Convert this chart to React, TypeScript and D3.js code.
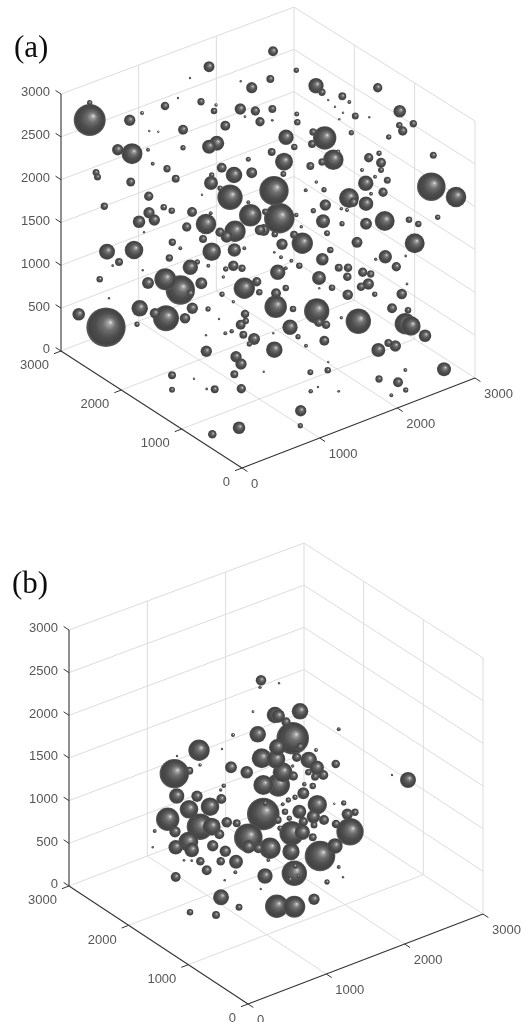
import React from 'react';
import * as d3 from 'd3';

// One projection cannot give depth, so spheres are read as position in the view plane:
// [across, up, radius], in view units measured from the axes' 0,0,0 corner
const spheresA: number[][] = [
  [-1523,3480,160],[-1523,3653,27],[-1123,3477,57],[-1000,3550,20],[-770,3620,43],[-640,3700,12],[-520,3900,12],[-330,4013,55],
  [-410,3663,37],[-260,3630,17],[-280,3570,33],[-13,3867,12],[97,3803,56],[-17,3590,57],[133,3570,47],[180,3463,47],[30,3513,14],
  [-167,3423,50],[-590,3383,50],[-927,3370,12],[-837,3363,12],[-1243,3183,57],[-1100,3143,105],[-940,3183,20],[-590,3203,27],
  [-330,3213,70],[-253,3247,75],[63,3087,25],[-893,3043,20],[-1460,2955,35],[-1445,2910,35],[-750,2993,37],[-203,3003,50],
  [-80,2930,83],[97,2953,55],[-663,2893,40],[-1113,2860,45],[-303,2930,27],[-310,2850,70],[-220,2797,27],[-120,2707,127],
  [-400,2733,12],[-933,2717,47],[-1377,2617,37],[-783,2607,33],[-703,2573,33],[-930,2553,57],[-500,2560,50],[-877,2480,57],
  [-1030,2463,63],[-360,2440,103],[-313,2547,20],[-553,2410,47],[-70,2367,107],[83,2527,113],[63,2657,20],[-220,2357,47],
  [-153,2313,60],[180,2380,53],[-980,2357,12],[-390,2290,40],[-697,2257,37],[-1350,2163,80],[-1080,2180,93],[-303,2163,93],
  [-77,2180,67],[-617,2197,20],[23,2197,20],
  [310,4167,50],[543,3977,27],[283,3890,40],[740,3823,77],[800,3757,37],[1003,3717,40],[1073,3660,20],[863,3680,12],[930,3613,12],
  [1010,3553,12],[973,3487,12],[1133,3520,35],[1273,3507,12],[1357,3803,47],[1577,3567,63],[1573,3427,33],[1607,3370,47],
  [1713,3443,37],[1467,3310,27],[1093,3353,27],[303,3590,40],[547,3540,25],[553,3457,33],[303,3477,14],[440,3307,77],[523,3210,33],
  [297,3160,40],[420,3063,90],[413,2940,30],[683,3020,40],[710,3360,37],[827,3300,117],[700,3240,40],[960,3163,23],[913,3083,103],
  [800,3060,37],[1267,3103,47],[1370,3147,27],[1390,3053,50],[1390,2980,30],[1200,2980,20],[1330,2913,20],[1453,2877,35],
  [1237,2847,77],[1410,2757,47],[1290,2743,20],[1913,3127,35],[1893,2813,143],[2140,2710,103],[1957,2507,27],[1670,2483,33],
  [1763,2440,33],[743,2860,18],[637,2777,20],[820,2783,27],[1070,2700,100],[1113,2657,47],[1240,2643,73],[833,2630,57],[713,2573,27],
  [993,2593,18],[1050,2580,20],[810,2467,70],[1000,2443,27],[1240,2443,60],[1427,2470,100],[320,2773,147],[233,2563,33],[373,2497,153],
  [543,2530,23],[217,2380,60],[327,2337,33],[593,2413,18],[520,2333,40],[603,2247,107],[400,2237,57],[850,2347,30],[1150,2257,55],
  [883,2180,33],[1727,2247,100],[1433,2113,67],
  [-1633,1537,63],[-1360,1407,197],[-1423,1887,33],[-1330,1697,12],[-1230,2060,40],[-1293,2023,14],[-993,1977,12],[-1023,1597,83],
  [-940,1850,60],[-767,1887,110],[-617,1780,147],[-517,1747,40],[-407,1847,60],[-727,2100,37],[-517,2007,77],[-447,2060,27],
  [-337,2023,20],[-187,1910,17],[-200,1737,27],[-87,1663,17],[-760,1497,130],[-870,1547,53],[-570,1497,53],[-497,1597,57],[-340,1590,27],
  [-1050,1437,27],[-230,1490,12],[-360,1327,12],[-167,1347,20],[-103,1367,23],[-357,1167,57],[23,1797,107],[147,1863,47],[173,1757,33],
  [-87,2023,53],[-163,1990,27],[0,1997,37],[30,1540,43],[-13,1433,50],[37,1470,33],[13,1333,40],[120,1290,60],[73,1240,27],[-60,1113,57],
  [-10,1040,57],[-77,937,40],[-700,927,40],[-480,893,12],[-700,783,30],[-353,790,14],[-273,787,40],[-7,793,47],[-297,337,43],[-30,403,63],
  [1337,2087,17],[1543,2013,47],[1637,2120,14],[803,2087,63],[573,2023,33],[493,2073,20],[390,2107,20],[323,2157,14],[357,1957,77],
  [437,1997,20],[967,2003,40],[1060,2003,43],[1053,1913,43],[770,1900,70],[1207,1957,47],[1287,1940,37],[1263,1840,57],[1190,1813,43],
  [900,1803,33],[437,1800,33],[340,1747,50],[1650,1840,14],[1597,1740,53],[1327,1737,27],[1057,1733,53],[773,1797,12],[337,1613,113],
  [510,1590,33],[747,1570,127],[767,1457,47],[840,1433,43],[993,1503,17],[1163,1467,127],[1500,1597,50],[1660,1577,33],[1633,1443,107],
  [1690,1420,97],[1830,1323,63],[480,1407,77],[560,1313,27],[313,1347,12],[823,1273,50],[640,1223,20],[323,1183,83],[1363,1180,70],
  [1463,1250,40],[1533,1220,57],[863,1060,12],[857,977,33],[683,957,30],[217,963,12],[1633,980,20],[1370,890,37],[1560,857,50],
  [2020,987,70],[1637,780,27],[1493,727,20],[687,767,23],[760,810,12],[967,767,14],[587,573,57],[583,423,27],
];

const spheresB: number[][] = [
  [-490,2537,107],[-737,2303,147],[-587,2333,40],[-710,2480,12],[-480,2390,18],[-260,2550,12],[-150,2690,20],[50,2923,14],[-170,2367,60],
  [-13,2317,63],[-243,2183,23],[-273,2140,17],[130,3237,53],[120,3167,17],[310,3207,12],[270,2890,83],[303,2880,67],[520,2927,83],
  [380,2820,47],[907,2747,20],[97,2697,83],[447,2657,163],[293,2567,83],[520,2573,40],[680,2540,20],[137,2457,100],[280,2447,93],
  [487,2467,47],[607,2440,83],[687,2363,73],[877,2400,43],[347,2317,100],[603,2317,33],[753,2290,50],[670,2273,40],[453,2280,47],
  [153,2190,100],[303,2190,117],[563,2197,23],[647,2180,33],[553,2107,60],[447,2380,17],[-713,2080,77],[-510,2077,57],[-267,2050,50],
  [-380,1973,93],[-590,1947,93],[-803,1847,117],[-213,1817,53],[-113,1807,40],[-933,1730,20],[-480,1773,133],[-363,1773,90],[-730,1723,57],
  [-287,1697,50],[-597,1623,100],[-723,1567,73],[-563,1540,73],[-353,1583,57],[-953,1567,12],[3,1663,143],[3,1573,67],[-227,1527,57],
  [-120,1423,70],[-273,1427,43],[-477,1427,43],[-640,1437,14],[-563,1433,14],[-413,1337,50],[-127,1317,20],[-723,1270,50],[-233,1237,13],
  [-270,1067,80],[-90,967,35],[-580,917,33],[-320,890,40],[153,1900,163],[170,2007,27],[470,2067,27],[693,1993,97],[863,2003,12],
  [957,2010,27],[993,1897,57],[1070,1917,37],[513,1923,70],[347,1997,20],[403,2040,27],[370,1923,33],[653,1873,67],[760,1840,50],
  [297,1840,40],[413,1857,27],[553,1823,47],[660,1790,35],[880,1800,43],[320,1757,27],[437,1707,123],[543,1717,77],[647,1667,40],
  [1020,1723,137],[870,1580,77],[220,1557,107],[103,1557,50],[430,1523,87],[720,1480,153],[203,1440,20],[170,1280,77],[463,1307,127],
  [420,1247,27],[503,1280,20],[470,1380,27],[907,1370,20],[950,1267,12],[790,1220,27],[127,1150,12],[660,1047,57],[287,977,117],
  [463,973,110],[1600,2240,80],[1440,2290,12],
];

const zTicks = [0, 500, 1000, 1500, 2000, 2500, 3000];
const xyTicks = [0, 1000, 2000, 3000];
const innerTicks = [1000, 2000];

const width = 523;
const height = 1022;
const axisMax = 3000;

const panels = [
  { name: '(a)', labelX: 14, labelY: 57, origin: [242, 468], xEnd: [233, -90], yEnd: [-181, -117], zEnd: -257, spheres: spheresA },
  { name: '(b)', labelX: 12, labelY: 593, origin: [248, 1004], xEnd: [235, -90], yEnd: [-179, -118], zEnd: -256, spheres: spheresB },
];

const unit = d3.scaleLinear().domain([0, axisMax]).range([0, 1]);
const viewLength = d3.scaleLinear().domain([0, 10]).range([0, 1]);
// the far corner of the box comes out a little shorter in the picture
const farShrink = 0.012;

const gridColor = '#dcdcdc';
const axisColor = '#333333';
const textColor = '#555555';

const Panel = ({ panel }: { panel: (typeof panels)[number] }) => {
  const { origin, xEnd, yEnd, zEnd } = panel;
  const project = (x: number, y: number, z: number): [number, number] => [
    origin[0] + unit(x) * xEnd[0] + unit(y) * yEnd[0],
    origin[1] + unit(x) * xEnd[1] + unit(y) * yEnd[1] + unit(z) * zEnd * (1 - farShrink * unit(x) * unit(y)),
  ];
  const seg = (a: number[], b: number[]) => d3.line()([project(a[0], a[1], a[2]), project(b[0], b[1], b[2])]) as string;

  const grid: string[] = [];
  // floor
  innerTicks.forEach(t => {
    grid.push(seg([t, 0, 0], [t, axisMax, 0]));
    grid.push(seg([0, t, 0], [axisMax, t, 0]));
  });
  grid.push(seg([axisMax, 0, 0], [axisMax, axisMax, 0]));
  grid.push(seg([0, axisMax, 0], [axisMax, axisMax, 0]));
  // back walls
  zTicks.slice(1).forEach(z => {
    grid.push(seg([0, axisMax, z], [axisMax, axisMax, z]));
    grid.push(seg([axisMax, 0, z], [axisMax, axisMax, z]));
  });
  [...innerTicks, axisMax].forEach(t => grid.push(seg([t, axisMax, 0], [t, axisMax, axisMax])));
  [0, ...innerTicks].forEach(t => grid.push(seg([axisMax, t, 0], [axisMax, t, axisMax])));

  const tickOut = 90;
  const sorted = [...panel.spheres].sort((a, b) => d3.descending(a[2], b[2]));

  return (
    <g>
      <text x={panel.labelX} y={panel.labelY} fontFamily="'Liberation Serif', serif" fontSize={31} fill="#111">{panel.name}</text>
      {grid.map((d, i) => <path key={i} d={d} stroke={gridColor} strokeWidth={1} fill="none" />)}

      <path d={seg([0, axisMax, 0], [0, axisMax, axisMax])} stroke={axisColor} strokeWidth={1.1} fill="none" />
      <path d={seg([0, 0, 0], [axisMax, 0, 0])} stroke={axisColor} strokeWidth={1.1} fill="none" />
      <path d={seg([0, 0, 0], [0, axisMax, 0])} stroke={axisColor} strokeWidth={1.1} fill="none" />

      {zTicks.map(z => {
        const [px, py] = project(0, axisMax, z);
        return (
          <g key={z}>
            <path d={seg([0, axisMax, z], [0, axisMax + tickOut, z])} stroke={axisColor} fill="none" />
            <text x={px - 11} y={py - 1} textAnchor="end" dominantBaseline="middle" fontFamily="'Liberation Sans', sans-serif" fontSize={13} fill={textColor}>{z}</text>
          </g>
        );
      })}
      {xyTicks.map(t => {
        const [yx, yy] = project(0, t, 0);
        const [xx, xy] = project(t, 0, 0);
        return (
          <g key={t}>
            <path d={seg([0, t, 0], [-tickOut, t, 0])} stroke={axisColor} fill="none" />
            <path d={seg([t, 0, 0], [t, -tickOut, 0])} stroke={axisColor} fill="none" />
            <text x={yx - 12} y={yy + 15} textAnchor="end" dominantBaseline="middle" fontFamily="'Liberation Sans', sans-serif" fontSize={13} fill={textColor}>{t}</text>
            <text x={xx + 9} y={xy + 17} dominantBaseline="middle" fontFamily="'Liberation Sans', sans-serif" fontSize={13} fill={textColor}>{t}</text>
          </g>
        );
      })}

      <g filter="url(#softenSpheres)">
        {sorted.map((s, i) => (
          <circle
            key={i}
            cx={origin[0] + viewLength(s[0])}
            cy={origin[1] - viewLength(s[1])}
            r={viewLength(s[2])}
            fill="url(#sphereShade)"
          />
        ))}
      </g>
    </g>
  );
};

export default function App() {
  return (
    <svg width={width} height={height} style={{ position: 'absolute', left: 0, top: 0 }}>
      <defs>
        <radialGradient id="sphereShade" cx="0.5" cy="0.5" r="0.5" fx="0.62" fy="0.37">
          <stop offset="0" stopColor="#e4e4e4" />
          <stop offset="0.12" stopColor="#a2a2a2" />
          <stop offset="0.32" stopColor="#6e6e6e" />
          <stop offset="0.62" stopColor="#4e4e4e" />
          <stop offset="0.88" stopColor="#424242" />
          <stop offset="1" stopColor="#5e5e5e" />
        </radialGradient>
        <filter id="soften" x="0" y="0" width="100%" height="100%">
          <feGaussianBlur stdDeviation="0.45" />
        </filter>
        <filter id="softenSpheres" x="-5%" y="-5%" width="110%" height="110%">
          <feGaussianBlur stdDeviation="0.35" />
        </filter>
      </defs>
      <rect width={width} height={height} fill="#fff" />
      <g filter="url(#soften)">
        {panels.map(p => <Panel key={p.name} panel={p} />)}
      </g>
    </svg>
  );
}
